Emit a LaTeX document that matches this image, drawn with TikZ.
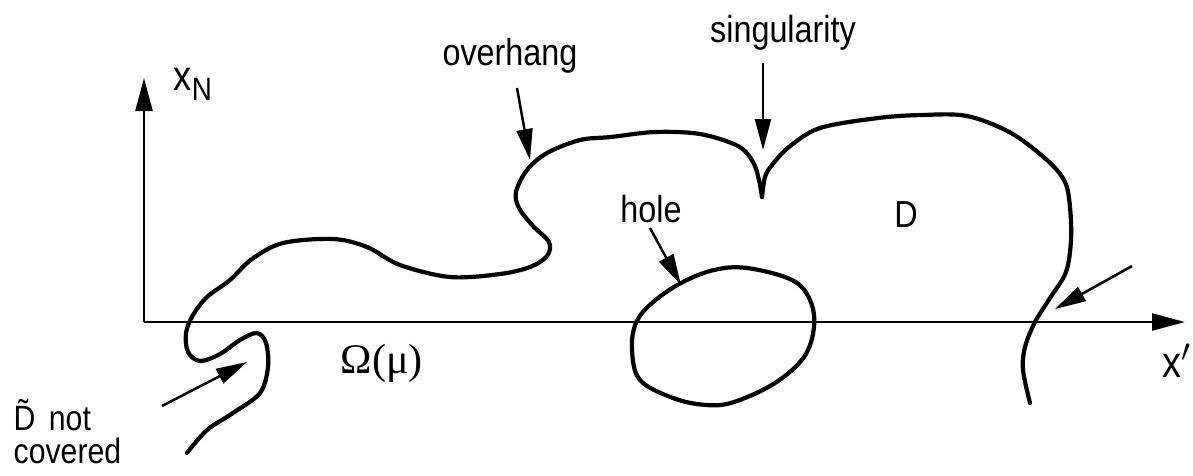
\documentclass[tikz,border=0pt]{standalone}
\usepackage{fontspec}
\setmainfont{Liberation Sans}[FakeStretch=0.86]
\newfontfamily\greekserif{Liberation Serif}
\usetikzlibrary{arrows.meta}
\tikzset{
  rim/.style={line width=0.42mm,line join=round,line cap=round},
  axis/.style={line width=0.25mm,-{Triangle[length=3.3mm,width=1.7mm]}},
  pointer/.style={line width=0.25mm,-{Triangle[length=3.1mm,width=1.6mm]}},
  lbl/.style={inner sep=0pt,anchor=base,font=\fontsize{10.7}{13}\selectfont},
}

\begin{document}
\begin{tikzpicture}[x=0.1mm,y=-0.1mm]
        \useasboundingbox (0,0) rectangle (1193,475);
        % axes
        \coordinate (O) at (144,322);
        \coordinate (xend) at (1185,322);
        \coordinate (yend) at (144,78);
        \draw[axis] (O) -- (xend);
        \draw[axis] (O) -- (yend);
        \node[lbl,anchor=base west] (xN) at (173,90) {\fontsize{12}{14}\selectfont x\raisebox{-1mm}{\fontsize{9.2}{11}\selectfont N}};
        \node[lbl,anchor=base west] (xprime) at (1162,377) {\fontsize{12.5}{14}\selectfont x$'$};
        % boundary of D, left part up to the cusp
        \draw[rim] plot[smooth,tension=0.55] coordinates {(187,453) (207,430) (233,413) (260,393) (268,367) (266,343) (257,333)
          (240,340) (220,354) (200,361) (188,352) (186,333) (193,315) (207,297) (230,280) (252,259) (283,243) (333,239)
          (367,247) (400,265) (450,277) (500,274) (530,267) (547,256) (549,242) (533,226) (519,208) (516,192) (527,170)
          (547,153) (580,140) (611,137) (655,132) (700,134) (738,146) (753,162) (759,180) (762,197)};
        % right part from the cusp
        \draw[rim] plot[smooth,tension=0.55] coordinates {(762,197) (765,177) (772,165) (789,147) (820,128) (878,118)
          (922,115) (967,116) (1011,133) (1048,161) (1065,182) (1070,207) (1071,240) (1066,272) (1050,298) (1035,322)
          (1025,347) (1023,370) (1030,403)};
        % the hole
        \draw[rim] plot[smooth cycle,tension=0.6] coordinates {(636,323) (632,350) (640,380) (673,398) (706,405) (734,402)
          (775,383) (804,357) (814,327) (810,300) (792,280) (747,268) (714,270) (681,283) (652,303)};
        % labels and pointers
        \node[lbl] (overhang) at (510,65) {overhang};
        \node[lbl] (singular) at (783,42) {singularity};
        \node[lbl] (hole) at (651,222) {hole};
        \node[lbl] (D) at (906,227) {D};
        \node[lbl] (omega) at (382,373) {\greekserif\fontsize{12}{14}\selectfont Ω(μ)};
        \node[lbl,anchor=base west,align=left,font=\fontsize{10}{9.2}\selectfont] (notcov) at (13,463) {\~{D}\hspace{0.5mm} not\\covered};
        \coordinate (ovtail) at (517,88);   \coordinate (ovtip) at (530,160);
        \coordinate (sgtail) at (763,63);   \coordinate (sgtip) at (763,150);
        \coordinate (hltail) at (650,228);  \coordinate (hltip) at (681,285);
        \coordinate (rttail) at (1132,266); \coordinate (rttip) at (1055,309);
        \coordinate (lftail) at (162,406);  \coordinate (lftip) at (247,362);
        \foreach \a/\b in {ovtail/ovtip,sgtail/sgtip,hltail/hltip,rttail/rttip,lftail/lftip}
          \draw[pointer] (\a) -- (\b);
\end{tikzpicture}
\end{document}
